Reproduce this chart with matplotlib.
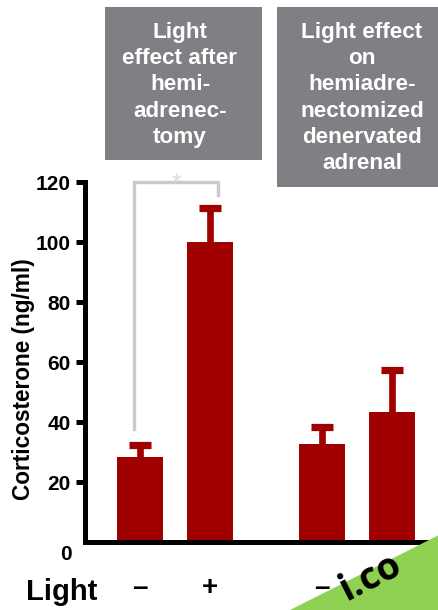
import matplotlib
matplotlib.use("Agg")
import matplotlib.pyplot as plt
from matplotlib.patches import Rectangle, Polygon

plt.rcParams['font.family'] = ['Liberation Sans', 'DejaVu Sans']

# ---- data ----
groups = ["after hemiadrenectomy", "hemiadrenectomized denervated"]
light_labels = ["\u2013", "+", "\u2013", "+"]
positions = [0.0, 1.0, 2.6, 3.6]
means = [28.3, 100.0, 32.7, 43.3]
sem_upper = [3.9, 11.3, 5.5, 14.2]
yticks = [20, 40, 60, 80, 100, 120]
box_texts = ["Light\neffect after\nhemi-\nadrenec-\ntomy",
             "Light effect\non\nhemiadre-\nnectomized\ndenervated\nadrenal"]

W, H = 439, 610
fig = plt.figure(figsize=(W / 100, H / 100), dpi=100)
fig.patch.set_facecolor("white")

def fx(px):
    return px / W

def fy(py):
    return 1 - py / H

# axes: x from 85px to 439px, y from 542px (0) to 182px (120)
ax = fig.add_axes([fx(85), fy(542), fx(439) - fx(85), fy(182) - fy(542)])
ax.set_facecolor("none")
px_per_unit = 70.0
x0 = positions[0] - (140 - 85) / px_per_unit
x1 = positions[0] + (439 - 140) / px_per_unit
ax.set_xlim(x0, x1)
ax.set_ylim(0, 120)

red = "#a10000"
ax.bar(positions, means, width=0.66, color=red, zorder=2)
ax.errorbar(positions, means, yerr=[[0] * 4, sem_upper], fmt="none",
            ecolor=red, elinewidth=4.8, capsize=0, zorder=3)
tops = [m + e for m, e in zip(means, sem_upper)]
ax.plot(positions, tops, ls="none", marker="_", ms=16, mew=5.2,
        color=red, zorder=3)

for s in ["top", "right"]:
    ax.spines[s].set_visible(False)
ax.spines["left"].set_linewidth(3.6)
ax.spines["bottom"].set_linewidth(3.6)
ax.spines["left"].set_bounds(0, 120)
ax.spines["left"].set_capstyle("projecting")

ax.set_yticks(yticks)
ax.set_yticklabels([str(t) for t in yticks], fontsize=15, fontweight="bold")
ax.tick_params(axis="y", direction="out", length=6.5, width=3.6, pad=4)
ax.set_xticks(positions)
ax.set_xticklabels(light_labels, fontsize=20, fontweight="bold")
ax.tick_params(axis="x", length=0, pad=24)

fig.text(fx(66), fy(555), "0", fontsize=15, fontweight="bold",
         ha="center", va="center")
fig.text(fx(62), fy(592), "Light", fontsize=21, fontweight="bold",
         ha="center", va="center")
fig.text(fx(24), fy(379), "Corticosterone (ng/ml)", fontsize=16.3,
         fontweight="bold", rotation=90, ha="center", va="center")

# significance bracket
gray_line = "#c9c9d1"
bl = positions[0] - 0.09
br = positions[1] + 0.12
ax.plot([bl, bl, br, br], [37.7, 120, 120, 115.7], color=gray_line,
        lw=2.4, clip_on=False, zorder=1, solid_joinstyle="miter")
ax.text((bl + br) / 2, 119.5, "*", color="#dcdce4", fontsize=18,
        ha="center", va="center", clip_on=False, zorder=2)

# header boxes
box_color = "#7f7f84"
fig.patches.append(Rectangle((fx(105), fy(160)), fx(262) - fx(105),
                             fy(7) - fy(160), transform=fig.transFigure,
                             facecolor=box_color, edgecolor="none"))
fig.patches.append(Rectangle((fx(277), fy(187)), fx(450) - fx(277),
                             fy(7) - fy(187), transform=fig.transFigure,
                             facecolor=box_color, edgecolor="none"))
fig.text(fx(180), fy(85), box_texts[0], color="white", fontsize=16.2,
         fontweight="bold", ha="center", va="center", linespacing=1.32,
         multialignment="center")
fig.text(fx(362), fy(98), box_texts[1], color="white", fontsize=16.2,
         fontweight="bold", ha="center", va="center", linespacing=1.32,
         multialignment="center")

# watermark band
fig.patches.append(Polygon([(fx(290), fy(610)), (fx(439), fy(535)),
                            (fx(439), fy(610))], closed=True,
                           transform=fig.transFigure,
                           facecolor="#8fd152", edgecolor="none", zorder=5))
fig.text(fx(350), fy(609), "i.co", fontsize=27, fontweight="bold",
         family=["Open Sans", "DejaVu Sans"], rotation=27, color="black",
         ha="left", va="bottom", zorder=6, rotation_mode="anchor")

fig.savefig("out.png", dpi=100, facecolor="white")
